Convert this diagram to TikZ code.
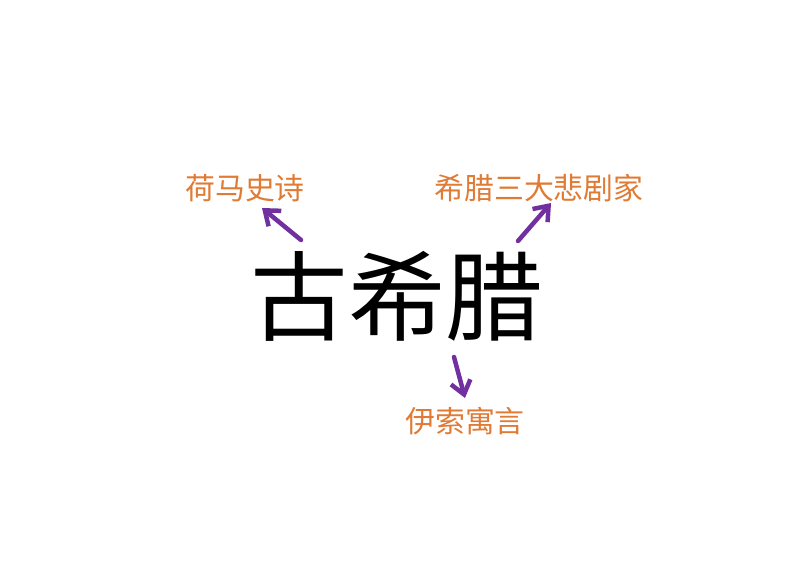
\documentclass[tikz,border=0pt]{standalone}
\usepackage{fontspec}
\newfontfamily\cjk{Noto Sans CJK SC}
\usetikzlibrary{arrows.meta}
\definecolor{txtorange}{HTML}{E07B35}
\definecolor{arrpurple}{HTML}{7030A0}
\tikzset{
  maintext/.style={font=\cjk\fontsize{98}{98}\selectfont, text=black, inner sep=0pt},
  subtext/.style={font=\cjk\fontsize{30}{30}\selectfont, text=txtorange, inner sep=0pt},
  arr/.style={draw=arrpurple, line width=4.5bp, line cap=round, -{Straight Barb[length=13bp,width=20bp,line width=4.5bp]}}
}
\begin{document}
\begin{tikzpicture}[x=1bp,y=-1bp]
\useasboundingbox (0,0) rectangle (794,562);
\node[maintext] (main) at (397,296) {古希腊};
\node[subtext] (homer) at (245,188) {荷马史诗};
\node[subtext] (tragic) at (539,188) {希腊三大悲剧家};
\node[subtext] (aesop) at (465,421) {伊索寓言};
\coordinate (s1) at (301,240);
\coordinate (e1) at (262,208);
\coordinate (s2) at (518,241);
\coordinate (e2) at (551,203);
\coordinate (s3) at (454,357);
\coordinate (e3) at (465,398);
\draw[arr] (s1) -- (e1);
\draw[arr] (s2) -- (e2);
\draw[arr] (s3) -- (e3);
\end{tikzpicture}
\end{document}
